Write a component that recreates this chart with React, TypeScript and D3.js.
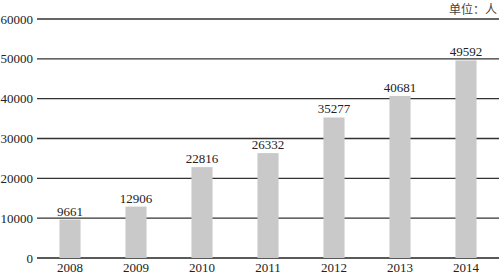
import React from "react";
import * as d3 from "d3";

const years = ["2008", "2009", "2010", "2011", "2012", "2013", "2014"];
const values = [9661, 12906, 22816, 26332, 35277, 40681, 49592];
const yTicks = [0, 10000, 20000, 30000, 40000, 50000, 60000];
const unitLabel = "单位：人";

export default function App() {
  const W = 499, H = 275;
  const x = d3.scaleBand<string>().domain(years).range([37, 499]).paddingInner(0.68).paddingOuter(0.34);
  const y = d3.scaleLinear().domain([0, 60000]).range([258, 19]);
  const font = "'Liberation Serif', 'Times New Roman', serif";
  return (
    <div style={{ position: "absolute", left: 0, top: 0 }}>
      <svg width={W} height={H} style={{ display: "block", background: "#fff" }}>
        {yTicks.map((t) => (
          <g key={t}>
            <line x1={37} x2={499} y1={y(t)} y2={y(t)} stroke={t === 0 ? "#222" : "#333"} strokeWidth={t === 0 ? 1.6 : 1.4} />
            <text x={33} y={y(t)} dy="0.35em" textAnchor="end" fontFamily={font} fontSize={13} fill="#222">{t}</text>
          </g>
        ))}
        {years.map((yr, i) => (
          <g key={yr}>
            <rect x={x(yr)} y={y(values[i])} width={x.bandwidth()} height={y(0) - y(values[i])} fill="#c9c9c9" />
            <text x={(x(yr) as number) + x.bandwidth() / 2} y={y(values[i]) - 4} textAnchor="middle" fontFamily={font} fontSize={13} fill="#222">{values[i]}</text>
            <text x={(x(yr) as number) + x.bandwidth() / 2} y={272} textAnchor="middle" fontFamily={font} fontSize={13} fill="#222">{yr}</text>
          </g>
        ))}
        <text x={497} y={14} textAnchor="end" fontFamily="'Noto Sans CJK SC', sans-serif" fontSize={12} fill="#444">{unitLabel}</text>
      </svg>
    </div>
  );
}
